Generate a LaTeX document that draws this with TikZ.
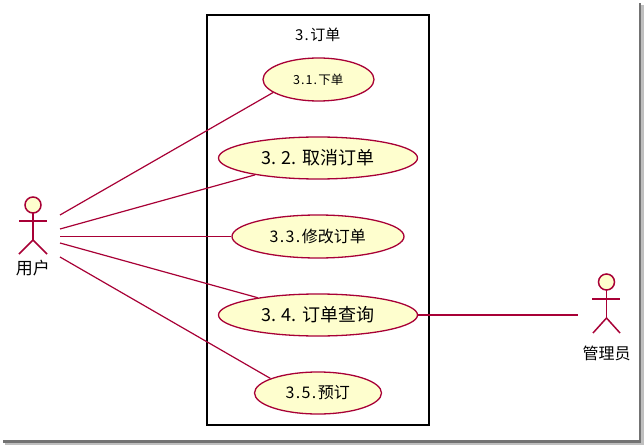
\documentclass[tikz,border=0pt]{standalone}
\usepackage{fontspec}
\newfontfamily\cjk{Noto Sans CJK SC}
\newcommand\hw[1]{\makebox[0.5em]{#1}}
\usetikzlibrary{shapes.geometric}
\definecolor{umlred}{HTML}{A80036}
\definecolor{umlfill}{HTML}{FEFECE}
\tikzset{
  usecase/.style={ellipse, draw=umlred, fill=umlfill, line width=1.3pt, inner sep=0pt,
    minimum width=#1, minimum height=42pt, font=\cjk},
  assoc/.style={draw=umlred, line width=1.2pt},
  actorline/.style={draw=umlred, line width=1.5pt},
  actorlabel/.style={font=\cjk\fontsize{16}{18}\selectfont, inner sep=0pt},
}
\begin{document}
\begin{tikzpicture}[x=1pt,y=-1pt]
\useasboundingbox (0,0) rectangle (644,446);
\fill[white] (0,0) rectangle (644,446);
% screenshot shadow
\fill[black!55] (638.5,3) rectangle (641,442.5);
\fill[black!55] (3,439.5) rectangle (641,442.5);
\fill[black!25] (641,5) rectangle (643.5,444.5);
\fill[black!25] (5,442.5) rectangle (643.5,444.5);
% system boundary
\node[draw=black, line width=2.4pt, minimum width=222pt, minimum height=410pt, inner sep=0pt] (sys) at (318,220) {};
\node[font=\cjk\fontsize{15}{17}\selectfont, inner sep=0pt] (title) at (318,35) {\hw3\hw.订单};
% use cases
\node[usecase=111pt, minimum height=43pt] (uc1) at (318.5,79.5) {\fontsize{12.5}{14}\selectfont \hw3\hw.\hw1\hw.下单};
\node[usecase=199pt] (uc2) at (318,158) {\fontsize{18}{20}\selectfont 3. 2. 取消订单};
\node[usecase=172pt, minimum height=43pt] (uc3) at (318,236.5) {\fontsize{16}{18}\selectfont \hw3\hw.\hw3\hw.修改订单};
\node[usecase=199pt] (uc4) at (318,315) {\fontsize{18}{20}\selectfont 3. 4. 订单查询};
\node[usecase=127pt] (uc5) at (318,393) {\fontsize{16}{18}\selectfont \hw3\hw.\hw5\hw.预订};
% actor 用户
\draw[actorline, fill=umlfill] (33,205) circle (8);
\draw[actorline] (33,213) -- (33,240);
\draw[actorline] (19,221) -- (47,221);
\draw[actorline] (19,254) -- (33,240) -- (47,254);
\node[actorlabel, font=\cjk\fontsize{17}{19}\selectfont] (user) at (33,268) {用户};
\coordinate (u1) at (60,215);
\coordinate (u2) at (60,229);
\coordinate (u3) at (60,236.5);
\coordinate (u4) at (60,243);
\coordinate (u5) at (60,257);
% actor 管理员
\draw[actorline, fill=umlfill] (606.5,282) circle (8);
\draw[actorline] (606.5,290) -- (606.5,318);
\draw[actorline] (592,299) -- (620,299);
\draw[actorline] (593,333) -- (606.5,318) -- (620,333);
\node[actorlabel] (admin) at (606.5,353) {管理员};
\coordinate (a1) at (578,315);
% associations
\draw[assoc] (u1) -- (uc1.196);
\draw[assoc] (u2) -- (uc2.195);
\draw[assoc] (u3) -- (uc3.west);
\draw[assoc] (u4) -- (uc4.164.6);
\draw[assoc] (u5) -- (uc5.163.7);
\draw[assoc] (uc4.east) -- (a1);
\end{tikzpicture}
\end{document}
